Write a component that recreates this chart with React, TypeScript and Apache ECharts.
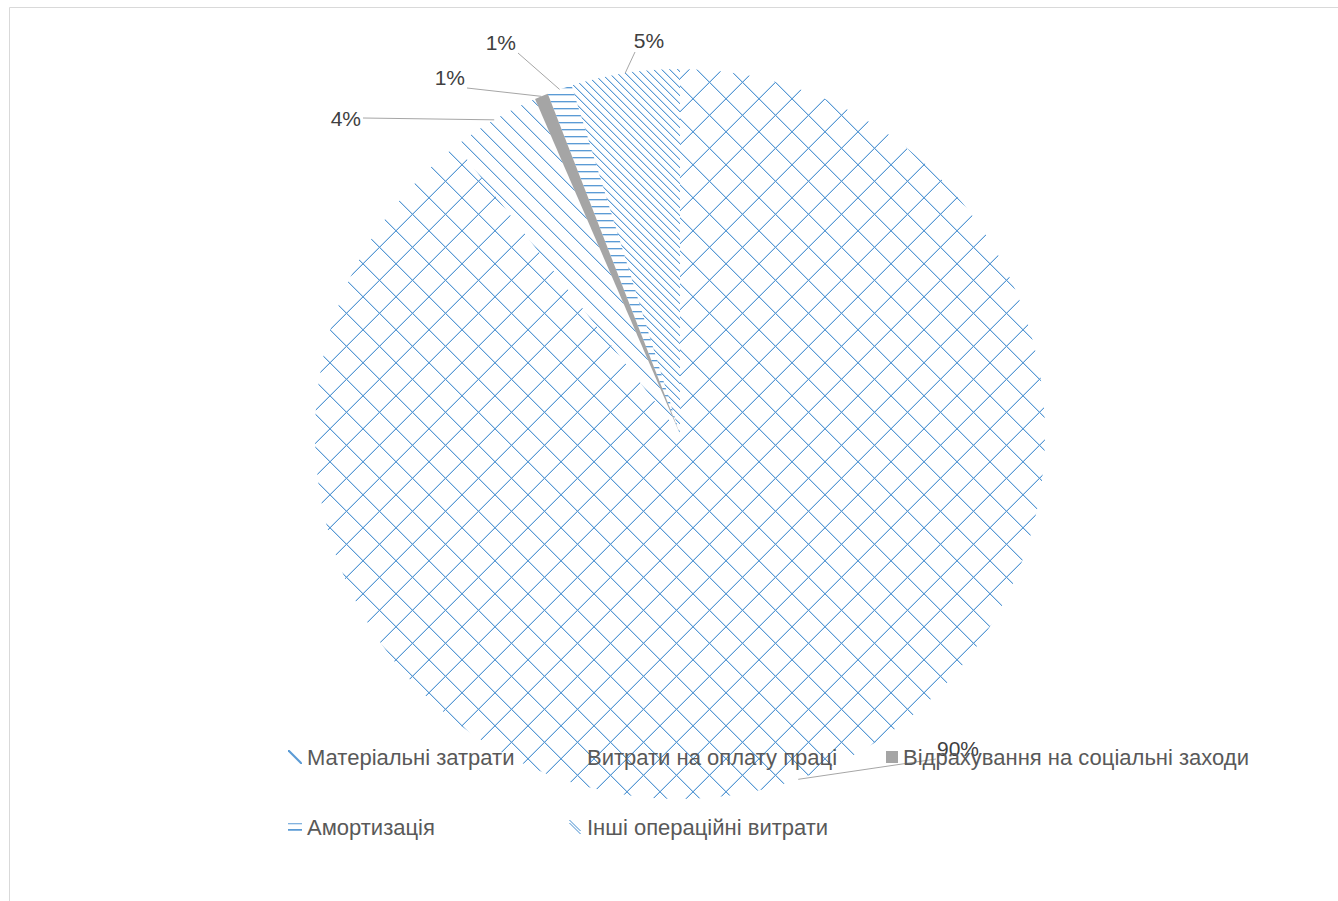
import React, { useEffect, useRef } from 'react';
import * as echarts from 'echarts';

const categories = [
  'Матеріальні затрати',
  'Витрати на оплату праці',
  'Відрахування на соціальні заходи',
  'Амортизація',
  'Інші операційні витрати',
];
const values = [89.5, 4.0, 0.6, 1.1, 4.8];

const BLUE = '#5B9BD5';
const BLUE_SOFT = 'rgba(91,155,213,0.35)';
const GRAY = '#A5A5A5';
const FONT = '"Liberation Sans", Arial, sans-serif';

function makeTile(w: number, h: number, draw: (ctx: CanvasRenderingContext2D) => void) {
  const c = document.createElement('canvas');
  c.width = w;
  c.height = h;
  const ctx = c.getContext('2d') as CanvasRenderingContext2D;
  draw(ctx);
  return c;
}

function px(ctx: CanvasRenderingContext2D, x: number, y: number, s: number, color: string) {
  const xx = ((x % s) + s) % s;
  const yy = ((y % s) + s) % s;
  ctx.fillStyle = color;
  ctx.fillRect(xx, yy, 1, 1);
}

// "\" diagonal, pixel stepped
function diagTile(s: number) {
  return makeTile(s, s, (ctx) => {
    for (let i = 0; i < s; i++) {
      px(ctx, i + 1, i, s, BLUE_SOFT);
      px(ctx, i, i, s, BLUE);
    }
  });
}

// diagonal grid, pixel stepped
function crossTile(s: number) {
  return makeTile(s, s, (ctx) => {
    for (let i = 0; i < s; i++) {
      px(ctx, i + 1, i, s, BLUE_SOFT);
      px(ctx, s - 2 - i, i, s, BLUE_SOFT);
    }
    for (let i = 0; i < s; i++) {
      px(ctx, i, i, s, BLUE);
      px(ctx, s - 1 - i, i, s, BLUE);
    }
  });
}

function hLineTile(w: number, h: number) {
  return makeTile(w, h, (ctx) => {
    ctx.fillStyle = BLUE;
    ctx.fillRect(0, 3, w, 1);
    ctx.fillStyle = BLUE_SOFT;
    ctx.fillRect(0, 4, w, 1);
  });
}

export default function App() {
  const ref = useRef<HTMLDivElement>(null);

  useEffect(() => {
    if (!ref.current) return;
    const chart = echarts.init(ref.current, null, { renderer: 'svg' });

    const fills: any[] = [
      { image: crossTile(33), repeat: 'repeat', imageWidth: 33, imageHeight: 33, x: 15, y: 2 },
      { image: diagTile(16), repeat: 'repeat', imageWidth: 16, imageHeight: 16 },
      GRAY,
      { image: hLineTile(8, 7), repeat: 'repeat', imageWidth: 8, imageHeight: 7 },
      { image: diagTile(8), repeat: 'repeat', imageWidth: 8, imageHeight: 8 },
    ];

    // label text positions and the anchor where the leader line meets the text
    const labelPos: any[] = [
      { x: 937, y: 748, align: 'left', ax: 936, ay: 759 },
      { x: 361, y: 118, align: 'right', ax: 363, ay: 118 },
      { x: 465, y: 77, align: 'right', ax: 467, ay: 88 },
      { x: 516, y: 42, align: 'right', ax: 518, ay: 53 },
      { x: 649, y: 40, align: 'center', ax: 635, ay: 52 },
    ];

    const legendText = { fontSize: 22, color: '#595959', fontFamily: FONT };

    const option: any = {
      animation: false,
      backgroundColor: '#FFFFFF',
      graphic: [
        {
          type: 'rect',
          shape: { x: 9.5, y: 7.5, width: 1400, height: 1000 },
          style: { fill: 'none', stroke: '#D9D9D9', lineWidth: 1 },
          silent: true,
          z: -10,
        },
      ],
      legend: [
        {
          orient: 'vertical',
          left: 283,
          top: 741,
          itemGap: 48,
          itemWidth: 14,
          itemHeight: 14,
          selectedMode: false,
          textStyle: legendText,
          data: [
            {
              name: categories[0],
              icon: 'path://M0,0 L1.3,0 L12,10.7 L12,12 L10.7,12 L0,1.3 Z',
              itemStyle: { color: BLUE },
            },
            {
              name: categories[3],
              icon: 'path://M0,0 L12,0 L12,0.8 L0,0.8 Z M0,5 L12,5 L12,6.4 L0,6.4 Z',
              itemStyle: { color: BLUE },
            },
          ],
        },
        {
          orient: 'vertical',
          left: 563,
          top: 741,
          itemGap: 48,
          itemWidth: 14,
          itemHeight: 14,
          selectedMode: false,
          textStyle: legendText,
          data: [
            { name: categories[1], icon: 'rect', itemStyle: { color: 'rgba(0,0,0,0)' } },
            {
              name: categories[4],
              icon: 'path://M0,0 L1,0 L11,10 L10,10 Z M0,2.6 L1,2.6 L11,12.6 L10,12.6 Z',
              itemStyle: { color: BLUE },
            },
          ],
        },
        {
          orient: 'vertical',
          left: 881,
          top: 741,
          itemWidth: 12,
          itemHeight: 12,
          selectedMode: false,
          textStyle: legendText,
          data: [{ name: categories[2], icon: 'rect', itemStyle: { color: GRAY } }],
        },
      ],
      series: [
        {
          type: 'pie',
          center: [680, 434],
          radius: 365,
          startAngle: 90,
          clockwise: true,
          avoidLabelOverlap: false,
          silent: true,
          z: 1,
          itemStyle: { borderWidth: 0 },
          data: categories.map((name, i) => ({
            name,
            value: values[i],
            itemStyle: { color: fills[i] },
          })),
          label: {
            show: true,
            position: 'outside',
            formatter: (p: any) => Math.round(p.percent) + '%',
            fontSize: 21,
            color: '#404040',
            fontFamily: FONT,
          },
          labelLine: {
            show: true,
            length: 10,
            length2: 10,
            lineStyle: { color: '#A6A6A6', width: 1 },
          },
          labelLayout: (p: any) => {
            const lp = labelPos[p.dataIndex];
            const start = p.labelLinePoints && p.labelLinePoints[0];
            const res: any = { x: lp.x, y: lp.y, align: lp.align, verticalAlign: 'middle' };
            if (start) res.labelLinePoints = [start, [lp.ax, lp.ay]];
            return res;
          },
        },
      ],
    };

    chart.setOption(option);
    return () => chart.dispose();
  }, []);

  return (
    <div
      ref={ref}
      style={{ position: 'absolute', left: 0, top: 0, width: 1338, height: 901 }}
    />
  );
}
